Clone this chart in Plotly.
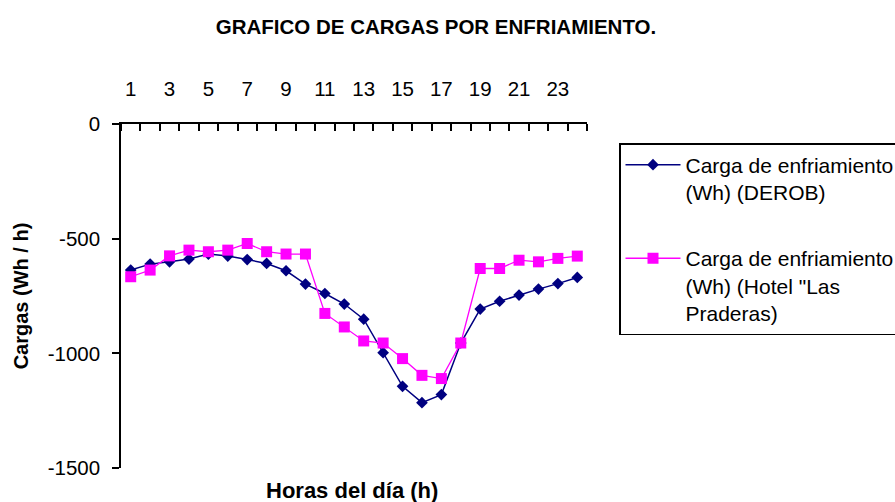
import plotly.graph_objects as go

hours = list(range(1, 25))
derob = [-637, -611, -601, -589, -567, -576, -591, -608, -640, -698, -739, -785,
         -851, -997, -1144, -1215, -1180, -955, -807, -773, -746, -720, -696, -669]
hotel = [-666, -637, -575, -550, -557, -550, -521, -557, -567, -567, -826, -885,
         -946, -955, -1023, -1096, -1110, -955, -630, -630, -594, -601, -586, -576]
x_ticks = [1, 3, 5, 7, 9, 11, 13, 15, 17, 19, 21, 23]
y_ticks = [0, -500, -1000, -1500]

FONT = "Liberation Sans, Arial, sans-serif"

fig = go.Figure()
fig.add_trace(go.Scatter(
    x=hours, y=derob, mode="lines+markers",
    name="Carga de enfriamiento<br>(Wh) (DEROB)",
    legendgroup="a",
    line=dict(color="#000080", width=1.5),
    marker=dict(symbol="diamond", size=9, color="#000080"),
))
fig.add_trace(go.Scatter(
    x=hours, y=hotel, mode="lines+markers",
    name="Carga de enfriamiento<br>(Wh) (Hotel \"Las<br>Praderas)",
    legendgroup="b",
    line=dict(color="#FF00FF", width=1.3),
    marker=dict(symbol="square", size=11, color="#FF00FF"),
))

L, R, T, B = 121, 308, 124, 34
W, H = 895, 502
pw, ph = W - L - R, H - T - B

fig.update_layout(
    width=W, height=H,
    margin=dict(l=L, r=R, t=T, b=B, autoexpand=False),
    paper_bgcolor="white", plot_bgcolor="white",
    font=dict(family=FONT, size=20, color="black"),
    title=dict(text="<b>GRAFICO DE CARGAS POR ENFRIAMIENTO.</b>",
               x=436 / W, xanchor="center", xref="container",
               y=1 - 27 / H, yanchor="middle", yref="container",
               font=dict(family=FONT, size=20.5, color="black")),
    xaxis=dict(side="top", range=[0.5, 24.5], tickmode="array", tickvals=x_ticks,
               ticktext=[str(v) for v in x_ticks], ticks="", showgrid=False,
               zeroline=False, showline=True, linecolor="black", linewidth=1.5,
               ticklabelstandoff=18, tickfont=dict(size=20.5),
               minor=dict(tick0=0.5, dtick=1, ticks="inside", ticklen=7,
                          tickwidth=1.5, tickcolor="black", showgrid=False)),
    yaxis=dict(range=[-1500, 0], tickmode="array", tickvals=y_ticks,
               ticktext=[str(v) for v in y_ticks],
               ticks="outside", ticklen=7, tickwidth=1.5, tickcolor="black",
               showgrid=False, zeroline=False, showline=True, linecolor="black",
               linewidth=1.5, ticklabelstandoff=8, tickfont=dict(size=20.5),
               title=dict(text="<b>Cargas (Wh / h)</b>", font=dict(size=20),
                          standoff=14)),
    legend=dict(x=(619 - L) / pw, xanchor="left", y=(H - B - 143) / ph, yanchor="top",
                bordercolor="black", borderwidth=1.5, bgcolor="white",
                font=dict(family=FONT, size=21, color="black"),
                valign="top", tracegroupgap=36, itemwidth=55),
    showlegend=True,
)
fig.add_annotation(text="<b>Horas del día (h)</b>", xref="paper", yref="paper",
                   x=(352 - L) / pw, y=-(491 - (H - B)) / ph, xanchor="center",
                   yanchor="middle", showarrow=False,
                   font=dict(family=FONT, size=22, color="black"))

fig.write_html("out.html", config={"displayModeBar": False},
               post_script="document.body.style.margin='0';")
